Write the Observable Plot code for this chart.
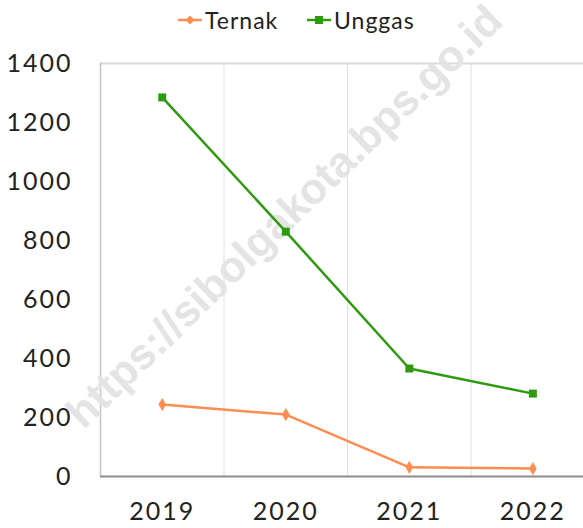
<!DOCTYPE html>
<html>
<head>
<meta charset="utf-8">
<script src="https://cdn.jsdelivr.net/npm/d3@7"></script>
<script src="https://cdn.jsdelivr.net/npm/@observablehq/plot@0.6"></script>
<style>
  body { margin: 0; background: #fff; font-family: Lato, "Open Sans", sans-serif; }
  #wrap { width: 583px; position: relative; overflow: hidden; }
  #legend { position: relative; height: 42px; }
  .item { position: absolute; top: 6px; display: flex; align-items: center; font-size: 23px; color: #222; letter-spacing: 1px; }
  .item svg { margin-right: 2px; }
  #chart svg { overflow: visible; }
  #chart svg text { letter-spacing: 2px; }
  #chart svg g[aria-label="watermark"] text,
  #chart svg [font-family^="Liberation"] text,
  #chart svg text[font-family^="Liberation"] { letter-spacing: 0px; }
</style>
</head>
<body>
<div id="wrap">
  <div id="legend">
    <div class="item" style="left:177px">
      <svg width="26" height="14"><line x1="1" y1="7" x2="25" y2="7" stroke="#ff8c50" stroke-width="2.5"/><path d="M13,2.5 L17.5,7 L13,11.5 L8.5,7 Z" fill="#ff8c50"/></svg><span>Ternak</span>
    </div>
    <div class="item" style="left:306px">
      <svg width="26" height="14"><line x1="1" y1="7" x2="25" y2="7" stroke="#2e9a0e" stroke-width="2.5"/><rect x="9" y="3" width="8" height="8" fill="#2e9a0e"/></svg><span>Unggas</span>
    </div>
  </div>
  <div id="chart"></div>
</div>
<script>
const years = [2019, 2020, 2021, 2022];
const ternak = [244, 210, 31, 27];
const unggas = [1285, 830, 366, 281];
const yTicks = [0, 200, 400, 600, 800, 1000, 1200, 1400];
const seriesNames = ["Ternak", "Unggas"];
const colors = ["#ff8c50", "#2e9a0e"];
const watermark = "https://sibolgakota.bps.go.id";

const ternakData = years.map((y, i) => ({year: y, value: ternak[i]}));
const unggasData = years.map((y, i) => ({year: y, value: unggas[i]}));
const boundaries = years.slice(0, -1).map(y => y + 0.5);

const chart = Plot.plot({
  width: 583,
  height: 486,
  marginLeft: 100,
  marginRight: 0,
  marginTop: 21,
  marginBottom: 52,
  style: { fontFamily: "Lato, 'Open Sans', sans-serif", fontSize: "25px", color: "#222", background: "transparent" },
  x: { type: "linear", domain: [2018.5, 2022.41], label: null },
  y: { domain: [0, 1400], label: null },
  marks: [
    Plot.ruleX(boundaries, { stroke: "#e0e0e0", strokeWidth: 1 }),
    Plot.ruleY([1400], { stroke: "#d9d9d9", strokeWidth: 2 }),
    Plot.ruleX([2018.5], { stroke: "#c4c4c4", strokeWidth: 1.5 }),
    Plot.text([watermark], { ariaLabel: "watermark", frameAnchor: "middle", textAnchor: "start", rotate: -44, dx: -268, dy: 150, fontSize: 43, fontWeight: "bold", fill: "#e4e4e4", fontFamily: "Liberation Sans, Arial, sans-serif" }),
    Plot.ruleY([0], { stroke: "#8c8c8c", strokeWidth: 2 }),
    Plot.line(ternakData, { x: "year", y: "value", stroke: colors[0], strokeWidth: 2.5 }),
    Plot.line(unggasData, { x: "year", y: "value", stroke: colors[1], strokeWidth: 2.5 }),
    Plot.dot(ternakData, { x: "year", y: "value", symbol: "diamond", r: 4, fill: colors[0] }),
    Plot.dot(unggasData, { x: "year", y: "value", symbol: "square", r: 4.5, fill: colors[1] }),
    Plot.axisX({ ticks: years, tickSize: 0, tickPadding: 26, tickFormat: d => String(d), label: null }),
    Plot.axisY({ ticks: yTicks, tickSize: 0, tickPadding: 28, tickFormat: d => String(d), label: null })
  ]
});
document.getElementById("chart").appendChild(chart);
</script>
</body>
</html>
